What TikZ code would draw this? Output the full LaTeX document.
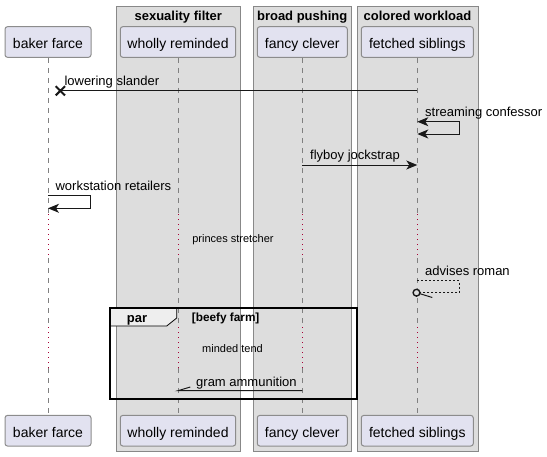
\documentclass[tikz,border=0pt]{standalone}
\usepackage{fontspec}
\setmainfont{Liberation Sans}
\usetikzlibrary{arrows.meta}
\definecolor{grpbg}{HTML}{DDDDDD}
\definecolor{grpline}{HTML}{888888}
\definecolor{partfill}{HTML}{E2E2F0}
\definecolor{partline}{HTML}{8C8C8C}
\definecolor{lifecol}{HTML}{808080}
\definecolor{delaycol}{HTML}{A80036}
\definecolor{msgcol}{HTML}{181818}
\definecolor{tabfill}{HTML}{EEEEEE}
\begin{document}
\begin{tikzpicture}[x=1pt,y=-1pt,
  grpbox/.style={draw=grpline,fill=grpbg,line width=1pt,inner sep=0pt,anchor=north west},
  grptitle/.style={font=\bfseries\fontsize{13}{15}\selectfont,anchor=base,inner sep=0pt},
  partbox/.style={draw=partline,fill=partfill,line width=1pt,rounded corners=2.5pt,inner sep=0pt,
     minimum height=30.6pt,text height=12.6pt,text depth=0pt,font=\fontsize{14}{16}\selectfont},
  lifedash/.style={draw=lifecol,line width=1pt,dash pattern=on 5pt off 5pt},
  lifedelay/.style={draw=delaycol,line width=1pt,dash pattern=on 1pt off 4pt},
  msg/.style={draw=msgcol,line width=1pt},
  msgdash/.style={draw=msgcol,line width=1pt,dash pattern=on 2pt off 2pt},
  tip/.style={-{Stealth[length=11pt,width=9pt,inset=3pt,fill=msgcol,color=msgcol]}},
  bothtips/.style={{Stealth[length=11pt,width=9pt,inset=3pt,fill=msgcol,color=msgcol]}-{Stealth[length=11pt,width=9pt,inset=3pt,fill=msgcol,color=msgcol]}},
  msglabel/.style={font=\fontsize{13}{15}\selectfont,anchor=base west,inner sep=0pt},
  delaytext/.style={font=\fontsize{11}{13}\selectfont,anchor=base,inner sep=0pt}
]
\useasboundingbox (0,0) rectangle (547,456);
% group boxes
\node[grpbox,minimum width=124pt,minimum height=445.3pt] (G-sex) at (116.3,6) {};
\node[grpbox,minimum width=97.7pt,minimum height=445.3pt] (G-broad) at (253.3,6) {};
\node[grpbox,minimum width=120.4pt,minimum height=445.3pt] (G-col) at (357.3,6) {};
\node[grptitle] (GT-sex) at (178.3,20) {sexuality filter};
\node[grptitle] (GT-broad) at (302.2,20) {broad pushing};
\node[grptitle] (GT-col) at (417.5,20) {colored workload};
% participants
\node[partbox,minimum width=86pt] (T-baker) at (48,42) {baker farce};
\node[partbox,minimum width=115.4pt] (T-wholly) at (178,42) {wholly reminded};
\node[partbox,minimum width=90pt] (T-fancy) at (302.3,42) {fancy clever};
\node[partbox,minimum width=112pt] (T-fetched) at (417.3,42) {fetched siblings};
\node[partbox,minimum width=86pt] (B-baker) at (48,430.7) {baker farce};
\node[partbox,minimum width=115.4pt] (B-wholly) at (178,430.7) {wholly reminded};
\node[partbox,minimum width=90pt] (B-fancy) at (302.3,430.7) {fancy clever};
\node[partbox,minimum width=112pt] (B-fetched) at (417.3,430.7) {fetched siblings};
% lifelines
\coordinate (d1top) at (0,214);
\coordinate (d1bot) at (0,258);
\coordinate (d2top) at (0,327);
\coordinate (d2bot) at (0,368);
\foreach \p in {baker,wholly,fancy,fetched}{
  \draw[lifedash] (T-\p.south) -- (T-\p.south |- d1top);
  \draw[lifedelay] (T-\p.south |- d1top) -- (T-\p.south |- d1bot);
  \draw[lifedash] (T-\p.south |- d1bot) -- (T-\p.south |- d2top);
  \draw[lifedelay] (T-\p.south |- d2top) -- (T-\p.south |- d2bot);
  \draw[lifedash] (T-\p.south |- d2bot) -- (B-\p.north);
}
% par fragment
\coordinate (parNW) at (110.3,308.3);
\coordinate (parSE) at (357.3,399);
\draw[fill=tabfill,line width=0.8pt] (parNW) -- (176.7,308.3) -- (176.7,318) -- (166.7,326) -- (110.3,326) -- cycle;
\draw[line width=2pt,black] (parNW) rectangle (parSE);
\node[font=\bfseries\fontsize{13}{15}\selectfont,anchor=base west,inner sep=0pt] (parlbl) at (126.7,322.5) {par};
\node[font=\bfseries\fontsize{11.8}{14}\selectfont,anchor=base west,inner sep=0pt] (parguard) at (191.7,321.5) {[beefy farm]};
% message 1: lowering slander
\coordinate (m1s) at (417.3,90.7);
\coordinate (m1e) at (60.3,90.7);
\draw[msg] (m1s) -- (m1e);
\draw[msgcol,line width=2pt] (55.7,86.2) -- (65,95.4) (55.7,95.4) -- (65,86.2);
\node[msglabel] (l1) at (64.3,85) {lowering slander};
% message 2: streaming confessor (self, both ends)
\coordinate (m2s) at (417.3,121.7);
\coordinate (m2e) at (417.3,134);
\draw[msg,bothtips] (m2s) -- ++(42,0) |- (m2e);
\node[msglabel] (l2) at (425,116) {streaming confessor};
% message 3: flyboy jockstrap
\coordinate (m3s) at (302.3,165);
\coordinate (m3e) at (417.3,165);
\draw[msg,tip] (m3s) -- (m3e);
\node[msglabel] (l3) at (310,159.5) {flyboy jockstrap};
% message 4: workstation retailers
\coordinate (m4s) at (48,195.7);
\coordinate (m4e) at (48,208.3);
\draw[msg,tip] (m4s) -- ++(42.7,0) |- (m4e);
\node[msglabel] (l4) at (55.4,190) {workstation retailers};
% delay 1
\node[delaytext] (dl1) at (233,242) {princes stretcher};
% message 5: advises roman
\coordinate (m5s) at (417.3,280.7);
\coordinate (m5c) at (416.5,292.7);
\draw[msgdash] (m5s) -- ++(42,0) |- (420,292.7);
\draw[msgcol,line width=1.4pt,fill=grpbg] (m5c) circle (3.4pt);
\draw[msg] (419.6,293.6) -- (432.3,297.5);
\node[msglabel] (l5) at (425,275.5) {advises roman};
% delay 2
\node[delaytext] (dl2) at (232.5,352) {minded tend};
% message 6: gram ammunition
\coordinate (m6s) at (302.3,390.7);
\coordinate (m6e) at (178,390.7);
\draw[msg] (m6s) -- (m6e) -- (190.3,387);
\node[msglabel] (l6) at (196,386) {gram ammunition};
\end{tikzpicture}
\end{document}
